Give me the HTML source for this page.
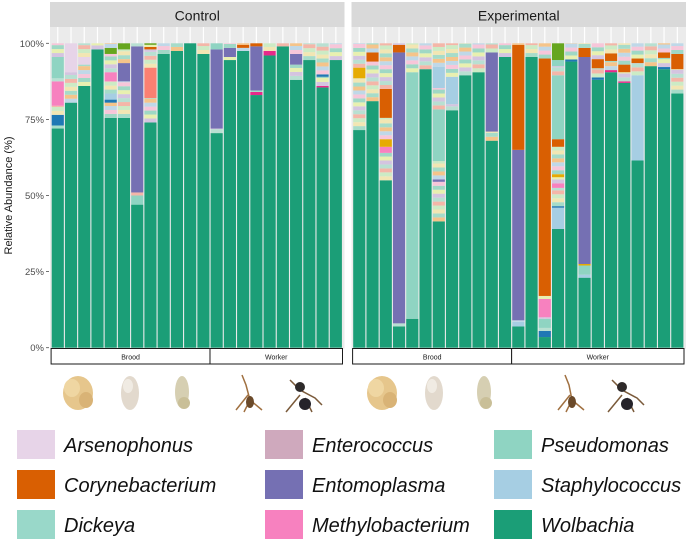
<!DOCTYPE html>
<html><head><meta charset="utf-8">
<style>
body{margin:0;background:#fff;width:690px;height:549px;overflow:hidden;font-family:"Liberation Sans",sans-serif}
svg{display:block}
</style></head><body>
<svg id="chart" width="690" height="549" xmlns="http://www.w3.org/2000/svg">
<g id="plots"></g>
<g id="icons">
 <g><ellipse cx="78" cy="393" rx="15" ry="17" fill="#e6c68c"/><ellipse cx="72" cy="388" rx="8" ry="9" fill="#efd6a2"/><ellipse cx="86" cy="400" rx="7" ry="8" fill="#d9b376"/></g>
 <g><ellipse cx="130" cy="393" rx="9" ry="17" fill="#e2d9cd"/><ellipse cx="128" cy="386" rx="5" ry="7" fill="#f0ebe3"/></g>
 <g><ellipse cx="182" cy="392" rx="7" ry="16" fill="#d6cfb2"/><ellipse cx="184" cy="403" rx="6" ry="6" fill="#c9bf98"/></g>
 <g stroke="#a07040" stroke-width="1.5" fill="none"><path d="M242 375 L246 385 L250 400 L244 412 M250 400 L262 410 M248 395 L236 410"/><ellipse cx="250" cy="402" rx="4" ry="6" fill="#6b4a2a" stroke="none"/></g>
 <g stroke="#7a5a3a" stroke-width="1.5" fill="none"><path d="M290 380 L300 390 L315 398 L322 405 M300 395 L286 412 M305 398 L312 412"/><ellipse cx="300" cy="387" rx="5" ry="5" fill="#2e2a2a" stroke="none"/><ellipse cx="305" cy="404" rx="6" ry="6" fill="#25232a" stroke="none"/></g>
 <g><ellipse cx="382" cy="393" rx="15" ry="17" fill="#e6c68c"/><ellipse cx="376" cy="388" rx="8" ry="9" fill="#efd6a2"/><ellipse cx="390" cy="400" rx="7" ry="8" fill="#d9b376"/></g>
 <g><ellipse cx="434" cy="393" rx="9" ry="17" fill="#e2d9cd"/><ellipse cx="432" cy="386" rx="5" ry="7" fill="#f0ebe3"/></g>
 <g><ellipse cx="484" cy="392" rx="7" ry="16" fill="#d6cfb2"/><ellipse cx="486" cy="403" rx="6" ry="6" fill="#c9bf98"/></g>
 <g stroke="#a07040" stroke-width="1.5" fill="none"><path d="M565 375 L569 385 L572 400 L566 412 M572 400 L584 410 M570 395 L558 410"/><ellipse cx="572" cy="402" rx="4" ry="6" fill="#6b4a2a" stroke="none"/></g>
 <g stroke="#7a5a3a" stroke-width="1.5" fill="none"><path d="M612 380 L622 390 L637 398 L644 405 M622 395 L608 412 M627 398 L634 412"/><ellipse cx="622" cy="387" rx="5" ry="5" fill="#2e2a2a" stroke="none"/><ellipse cx="627" cy="404" rx="6" ry="6" fill="#25232a" stroke="none"/></g>
</g>
<g id="legend"></g>
</svg>
<script>
const taxaColors = {wol:'#1b9e77',cor:'#d95f02',ent:'#7570b3',met:'#f781bf',ars:'#e7d4e8',enc:'#cfa9bd',pse:'#8fd4c2',sta:'#a6cee3',dic:'#99d8c9',blu:'#1f78b4',sal:'#fb8072',mag:'#e7298a',mus:'#e6ab02',grn:'#66a61e'};
const miscColors = ['#a6dcc9','#f2e6b3','#ccebc5','#f4b6a8','#b8e0d2','#d4c4e0','#e8f0b0','#9fd8c5','#f7c6d9','#bfd8e8','#f5c48a'];
const yTicks = [0,25,50,75,100];
const yTickLabels = ['0%','25%','50%','75%','100%'];
// Control panel
const ctrlGroups = ['Brood','Worker'];
const ctrlGroupCounts = [12,10];
const ctrlWol = [72,80.5,86,98,75.5,75.5,47,74,96.5,97.5,100,96.5, 70.5,94.5,97.5,83,96,99,88,94.5,85.5,94.5];
const ctrlOther = [
 [['m',1],['blu',3.5],['m',3],['met',8],['m',1],['pse',7]],
 [['m',10],['ars',9.5]],
 [['m',7],['ars',2.5]],
 [],
 [['m',5],['blu',1],['sta',2],['m',4],['met',3],['m',6],['grn',2]],
 [['m',12],['ent',6],['m',4.5],['grn',2.5]],
 [['pse',3],['m',1],['ent',48]],
 [['m',8],['sal',10],['m',6],['cor',0.8],['m',0.7],['grn',1]],
 [],[],[],[],
 [['m',1.5],['ent',26],['pse',2]],
 [['m',1],['ent',3]],
 [['m',1],['cor',1]],
 [['mag',1],['m',0.5],['ent',14.5],['cor',1]],
 [['mag',1.5]],
 [],
 [['m',5],['ent',3.5]],
 [],
 [['mag',0.5],['m',3],['blu',0.8]],
 []
];
// Experimental panel
const expGroups = ['Brood','Worker'];
const expGroupCounts = [12,13];
const expWol = [71.5,81,55,7,9.5,91.5,41.5,78,89.5,90.5,68,95.5, 7,95.5,3.5,39,94,23,88,90.5,87,61.5,92.5,91.5,83.5];
const expOther = [
 [['m',17],['mus',3.5]],
 [['m',13],['cor',3]],
 [['m',9],['met',2],['mus',2.5],['m',7],['cor',9.5]],
 [['m',1],['ent',89],['cor',2.5]],
 [['pse',81]],
 [],
 [['m',13],['ent',0.8],['m',6],['pse',17],['m',7],['sta',7]],
 [['m',2],['sta',9]],
 [],[],
 [['m',3],['ent',26]],
 [],
 [['sta',1.5],['m',0.5],['ent',56],['cor',34.5]],
 [],
 [['blu',2],['m',1],['pse',3],['m',0.5],['met',6],['m',1],['cor',78]],
 [['sta',7],['blu',0.5],['m',6],['met',1.5],['m',2],['mus',1],['m',9],['cor',2.5],['pse',21],['m',3],['pse',2],['grn',5.5]],
 [['blu',0.7]],
 [['sta',1],['pse',3],['mus',0.5],['ent',68],['cor',3]],
 [['blu',0.8],['m',3],['cor',3]],
 [['mag',0.7],['m',3],['cor',2.5]],
 [['mag',0.5],['m',3],['cor',2.5]],
 [['sta',28],['m',4],['cor',1.5]],
 [],
 [['blu',0.7],['m',3],['cor',1.8]],
 [['m',8],['cor',5]]
];
const legendNames = ['Arsenophonus','Corynebacterium','Dickeya','Enterococcus','Entomoplasma','Methylobacterium','Pseudomonas','Staphylococcus','Wolbachia'];
const legendKeys = ['ars','cor','dic','enc','ent','met','pse','sta','wol'];

const NS='http://www.w3.org/2000/svg';
function mk(tag,attrs,parent){const e=document.createElementNS(NS,tag);for(const k in attrs)e.setAttribute(k,attrs[k]);parent.appendChild(e);return e;}
const Y0=347.7, Y100=43.3;
const yScale=v=>Y0-(v/100)*(Y0-Y100);
const plots=document.getElementById('plots');

function panel(title,x0,x1,wol,other,groups,counts,showAxis,pname){
 const g=mk('g',{},plots);
 
 
 const hdr=mk('rect',{x:x0,y:2,width:x1-x0,height:25,fill:'#d9d9d9'},g);
 
 
 const ht=mk('text',{x:(x0+x1)/2,y:20.5,'text-anchor':'middle','font-size':14,fill:'#1a1a1a'},g);
 ht.textContent=title;
 
 
 mk('rect',{x:x0,y:27,width:x1-x0,height:Y0-27+1,fill:'#ebebeb'},g);
 const n=wol.length, bx0=x0+1.7, step=(x1-1.5-bx0)/n, bw=step-1.1;
 const xScale=i=>bx0+i*step;
 for(let i=0;i<n;i++) mk('line',{x1:xScale(i)+bw/2,x2:xScale(i)+bw/2,y1:27,y2:Y0,stroke:'#fff','stroke-width':1.2},g);
 let mi=0;
 for(let i=0;i<n;i++){
  const bar=mk('g',{},g);
  
  
  const segs=[['wol',wol[i]]].concat(other[i]);
  let cum=0;
  const draw=(col,v)=>{const yt=yScale(Math.min(100,cum+v)),yb=yScale(cum);if(yb-yt>0)mk('rect',{x:xScale(i),y:yt,width:bw,height:yb-yt,fill:col},bar);cum+=v;};
  for(const [k,v] of segs){
   if(k==='m'){let r=v;while(r>0.01){const s=Math.min(1.3,r);draw(miscColors[(mi++)%miscColors.length],s);r-=s;}}
   else draw(taxaColors[k],v);
  }
  while(cum<99.99){const s=Math.min(1.3,100-cum);draw(miscColors[(mi++)%miscColors.length],s);}
 }
 // strip
 let idx=0;
 groups.forEach((gn,j)=>{
  const sx=xScale(idx)-0.6, ex=xScale(idx+counts[j])-0.5;
  const r=mk('rect',{x:sx,y:348.5,width:ex-sx,height:15.5,fill:'#fff',stroke:'#1a1a1a','stroke-width':1},g);
  
  
  const t=mk('text',{x:(sx+ex)/2,y:359.5,'text-anchor':'middle','font-size':7,fill:'#1a1a1a'},g);
  t.textContent=gn;
  idx+=counts[j];
 });
 if(showAxis){
  yTicks.forEach((v,j)=>{
   const t=mk('text',{x:44,y:yScale(v)+3.5,'text-anchor':'end','font-size':9.5,fill:'#4d4d4d'},g);
   t.textContent=yTickLabels[j];
   
   
   mk('line',{x1:46,x2:49,y1:yScale(v),y2:yScale(v),stroke:'#4d4d4d','stroke-width':0.8},g);
  });
  const yt=mk('text',{x:0,y:0,'text-anchor':'middle','font-size':11,fill:'#1a1a1a',transform:'translate(12,'+(Y0+Y100)/2+') rotate(-90)'},g);
  yt.textContent='Relative Abundance (%)';
  
  
 }
}
panel('Control',50,344.5,ctrlWol,ctrlOther,ctrlGroups,ctrlGroupCounts,true,'control');
panel('Experimental',351.5,686,expWol,expOther,expGroups,expGroupCounts,false,'experimental');

const leg=document.getElementById('legend');
const colX=[17,265,494], rowY=[430,470,510];
legendNames.forEach((nm,i)=>{
 const c=Math.floor(i/3), r=i%3;
 const e=mk('g',{},leg);
 
 
 mk('rect',{x:colX[c],y:rowY[r],width:38,height:29,fill:taxaColors[legendKeys[i]]},e);
 const t=mk('text',{x:colX[c]+47,y:rowY[r]+22,'font-size':20,'font-style':'italic',fill:'#111'},e);
 t.textContent=nm;
});
</script>
</body></html>
